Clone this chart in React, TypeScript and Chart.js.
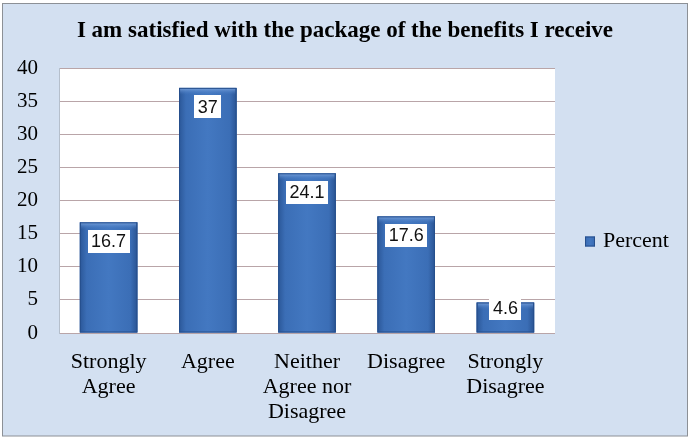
import React, { useEffect, useRef } from "react";
import { Chart, registerables } from "chart.js";

Chart.register(...registerables);

const TITLE = "I am satisfied with the package of the benefits I receive";
const categories: string[][] = [
  ["Strongly", "Agree"],
  ["Agree"],
  ["Neither", "Agree nor", "Disagree"],
  ["Disagree"],
  ["Strongly", "Disagree"],
];
const seriesName = "Percent";
const percent: number[] = [16.7, 37, 24.1, 17.6, 4.6];
const yMin = 0;
const yMax = 40;
const yStep = 5;

const SERIF = "'Liberation Serif', 'Times New Roman', serif";
const SANS = "'Liberation Sans', Arial, sans-serif";

function barGradient(ctx: CanvasRenderingContext2D, l: number, r: number) {
  const g = ctx.createLinearGradient(l, 0, r, 0);
  g.addColorStop(0, "#2B5798");
  g.addColorStop(0.12, "#3B6EB6");
  g.addColorStop(0.5, "#4378C1");
  g.addColorStop(0.88, "#3B6EB6");
  g.addColorStop(1, "#2A5493");
  return g;
}

const framePlugin = {
  id: "frame",
  beforeDraw(chart: any) {
    const { ctx, width, height, chartArea: a } = chart;
    ctx.save();
    ctx.fillStyle = "#ffffff";
    ctx.fillRect(0, 0, width, height);
    ctx.fillStyle = "#D3E0F1";
    ctx.fillRect(2, 3, width - 4, height - 6);
    ctx.strokeStyle = "#8C9096";
    ctx.lineWidth = 1;
    ctx.strokeRect(2.5, 3.5, width - 5, height - 6.5);
    ctx.fillStyle = "#ffffff";
    ctx.fillRect(a.left, a.top, a.right - a.left, a.bottom - a.top);
    ctx.restore();
  },
};

const barsPlugin = {
  id: "barsStyle",
  afterDatasetsDraw(chart: any) {
    const { ctx } = chart;
    const meta = chart.getDatasetMeta(0);
    const values = chart.data.datasets[0].data as number[];
    ctx.save();
    meta.data.forEach((bar: any, i: number) => {
      const { x, y, base, width } = bar.getProps(["x", "y", "base", "width"], true);
      const l = x - width / 2;
      const r = x + width / 2;
      ctx.fillStyle = barGradient(ctx, l, r);
      ctx.fillRect(l, y, width, base - y);
      const tg = ctx.createLinearGradient(0, y, 0, y + 7);
      tg.addColorStop(0, "#7BA3DC");
      tg.addColorStop(1, "rgba(67,120,193,0)");
      ctx.fillStyle = tg;
      ctx.fillRect(l + 1, y, width - 2, 7);
      ctx.strokeStyle = "#264F8C";
      ctx.lineWidth = 1;
      ctx.strokeRect(l + 0.5, y + 0.5, width - 1, base - y - 1);

      const txt = String(values[i]);
      ctx.font = `18px ${SANS}`;
      const tw = ctx.measureText(txt).width;
      const bw = tw + 7;
      const bh = 23;
      const cy = Math.min(y + 19, base - 24);
      ctx.fillStyle = "#ffffff";
      ctx.fillRect(Math.round(x - bw / 2), Math.round(cy - bh / 2), Math.round(bw), bh);
      ctx.fillStyle = "#111111";
      ctx.textAlign = "center";
      ctx.textBaseline = "middle";
      ctx.fillText(txt, x, cy + 1);
    });
    ctx.restore();
  },
};

const legendPlugin = {
  id: "sideLegend",
  afterDraw(chart: any) {
    const { ctx, chartArea: a } = chart;
    const label = chart.data.datasets[0].label as string;
    const cy = (a.top + a.bottom) / 2 + 41;
    const sx = a.right + 30;
    ctx.save();
    ctx.fillStyle = barGradient(ctx, sx, sx + 10);
    ctx.fillRect(sx, cy - 5, 10, 10);
    ctx.strokeStyle = "#264F8C";
    ctx.strokeRect(sx + 0.5, cy - 4.5, 9, 9);
    ctx.fillStyle = "#000000";
    ctx.font = `22px ${SERIF}`;
    ctx.textAlign = "left";
    ctx.textBaseline = "middle";
    ctx.fillText(label, sx + 18, cy);
    ctx.restore();
  },
};

export default function App() {
  const ref = useRef<HTMLCanvasElement | null>(null);
  useEffect(() => {
    document.body.style.margin = "0";
    const canvas = ref.current;
    if (!canvas) return;
    const chart = new Chart(canvas, {
      type: "bar",
      data: {
        labels: categories as any,
        datasets: [
          {
            label: seriesName,
            data: percent,
            backgroundColor: "#3D70B8",
            borderWidth: 0,
            barPercentage: 0.58,
            categoryPercentage: 1,
            yAxisID: "y",
          },
        ],
      },
      options: {
        responsive: false,
        animation: false,
        devicePixelRatio: 1,
        layout: { padding: 0 },
        plugins: {
          legend: { display: false },
          tooltip: { enabled: false },
          title: {
            display: true,
            text: TITLE,
            color: "#000000",
            font: { family: SERIF, size: 23, weight: "bold", lineHeight: 1.1 },
            padding: { top: 18, bottom: 24.7 },
          },
        },
        scales: {
          x: {
            grid: { display: false, drawTicks: false },
            border: { display: false },
            ticks: {
              color: "#000000",
              padding: 17,
              maxRotation: 0,
              autoSkip: false,
              font: { family: SERIF, size: 22, lineHeight: 1.13 },
            },
            afterFit: (s: any) => {
              s.height = 106;
            },
          },
          y: {
            min: yMin,
            max: yMax,
            ticks: {
              stepSize: yStep,
              padding: 21,
              color: "#000000",
              font: { family: SERIF, size: 21 },
            },
            grid: { color: "#B9A5A8", drawTicks: false },
            border: { display: true, color: "#B5BFCC" },
            afterFit: (s: any) => {
              s.width = 59;
            },
          },
          y2: {
            type: "linear",
            position: "right",
            display: true,
            grid: { display: false, drawTicks: false },
            border: { display: false },
            ticks: { display: false },
            afterFit: (s: any) => {
              s.width = 135;
            },
          },
        },
      } as any,
      plugins: [framePlugin, barsPlugin, legendPlugin],
    });
    return () => chart.destroy();
  }, []);
  return (
    <div style={{ width: 690, height: 439 }}>
      <canvas ref={ref} width={690} height={439} style={{ display: "block", width: 690, height: 439 }} />
    </div>
  );
}
